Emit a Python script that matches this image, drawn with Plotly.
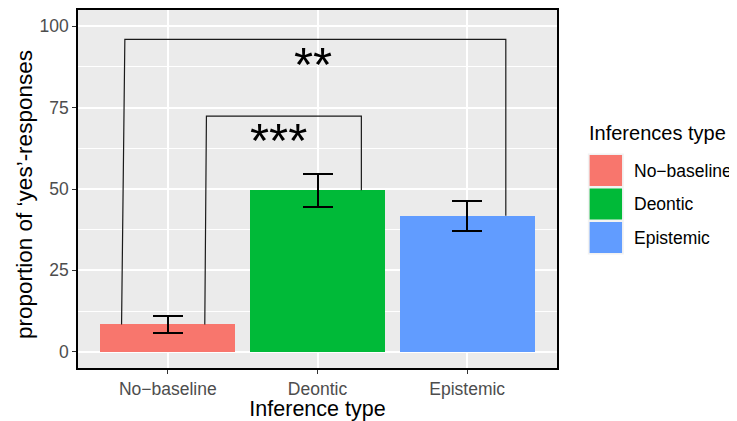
import plotly.graph_objects as go

# ---- data ----
categories = ["No\u2212baseline", "Deontic", "Epistemic"]
cat_pos = [1, 2, 3]
means = [8.4, 49.6, 41.8]
err_plus = [2.5, 5.0, 4.6]
err_minus = [2.6, 5.1, 4.6]
bar_colors = ["#F8766D", "#00BA38", "#619CFF"]

# significance brackets
br_inner_x = [1.247, 1.258, 2.293, 2.293]
br_inner_y = [8.4, 72.4, 72.4, 49.6]
br_outer_x = [0.691, 0.713, 3.258, 3.258]
br_outer_y = [8.4, 96.0, 96.0, 41.8]
sig_labels = ["***", "**"]
sig_x = [1.74, 1.97]
sig_y = [66.9, 90.2]

y_ticks = [0, 25, 50, 75, 100]

# page is rendered with an 8px body margin; compensate so the figure fills 737x421
OFF = 8
PAGE_W, PAGE_H = 737, 421
W, H = PAGE_W - OFF, PAGE_H - OFF
# target panel in page pixels
P_L, P_R, P_T, P_B = 78, 556.7, 10, 368
L, R, T, B = P_L - OFF, PAGE_W - P_R, P_T - OFF, PAGE_H - P_B
pw, ph = P_R - P_L, P_B - P_T

def px(x):
    return (x - P_L) / pw

def py(y):
    return (P_B - y) / ph

FONT = "Liberation Sans, Arial, sans-serif"

fig = go.Figure()
fig.add_trace(go.Bar(
    x=cat_pos, y=means, width=0.9,
    marker=dict(color=bar_colors, line=dict(width=0)),
    error_y=dict(type="data", symmetric=False, array=err_plus, arrayminus=err_minus,
                 color="black", thickness=2, width=15),
    showlegend=False, hoverinfo="skip",
))
for bx, by in [(br_inner_x, br_inner_y), (br_outer_x, br_outer_y)]:
    fig.add_trace(go.Scatter(x=bx, y=by, mode="lines",
                             line=dict(color="#1a1a1a", width=1.2),
                             showlegend=False, hoverinfo="skip"))

annotations = []
for lab, lx, ly in zip(sig_labels, sig_x, sig_y):
    annotations.append(dict(x=lx, y=ly, xref="x", yref="y", text=lab, showarrow=False,
                            font=dict(family=FONT, size=49, color="black"),
                            xanchor="center", yanchor="middle", yshift=-6))

# manual legend (ggplot-style)
shapes = []
shapes.append(dict(type="rect", xref="paper", yref="paper",
                   x0=px(587.5), x1=px(623.5), y0=py(254.5), y1=py(153.5),
                   fillcolor="#F2F2F2", line=dict(width=0), layer="below"))
key_tops = [155, 188.5, 222]
for i, (lab, col) in enumerate(zip(categories, bar_colors)):
    t = key_tops[i]
    shapes.append(dict(type="rect", xref="paper", yref="paper",
                       x0=px(589.3), x1=px(621.7), y0=py(t + 31), y1=py(t),
                       fillcolor=col, line=dict(width=0)))
    annotations.append(dict(x=px(632), y=py(t + 15.5), xref="paper", yref="paper",
                            text=lab, showarrow=False, xanchor="left", yanchor="middle",
                            font=dict(family=FONT, size=17.5, color="black")))
annotations.append(dict(x=px(587), y=py(133), xref="paper", yref="paper",
                        text="Inferences type", showarrow=False, xanchor="left", yanchor="middle",
                        font=dict(family=FONT, size=20, color="black")))
# y-axis title
annotations.append(dict(x=px(24), y=py(194), xref="paper", yref="paper",
                        text="proportion of \u2018yes\u2019-responses", textangle=-90,
                        showarrow=False, xanchor="center", yanchor="middle",
                        font=dict(family=FONT, size=22.5, color="black")))

fig.update_layout(
    width=W, height=H,
    margin=dict(l=L, r=R, t=T, b=B, autoexpand=False),
    paper_bgcolor="white", plot_bgcolor="#EBEBEB",
    font=dict(family=FONT),
    shapes=shapes, annotations=annotations,
    bargap=0,
)
fig.update_xaxes(
    automargin=False,
    range=[0.4, 3.6], tickvals=cat_pos, ticktext=categories,
    showgrid=True, gridcolor="white", gridwidth=1.5,
    zeroline=False, showline=True, linecolor="black", linewidth=1.5, mirror=True,
    ticks="outside", ticklen=4, tickwidth=1.1, tickcolor="#333333",
    tickfont=dict(family=FONT, size=17.5, color="#4D4D4D"),
    title=dict(text="Inference type", font=dict(family=FONT, size=21.5, color="black"), standoff=4),
)
fig.update_yaxes(
    automargin=False,
    range=[-5, 105], tickvals=y_ticks,
    showgrid=True, gridcolor="white", gridwidth=1.5,
    minor=dict(dtick=12.5, tick0=0, showgrid=True, gridcolor="white", gridwidth=0.7, ticks=""),
    zeroline=False, showline=True, linecolor="black", linewidth=1.5, mirror=True,
    ticks="outside", ticklen=4, tickwidth=1.1, tickcolor="#333333",
    tickfont=dict(family=FONT, size=17.5, color="#4D4D4D"),
)

fig.write_html("out.html")
